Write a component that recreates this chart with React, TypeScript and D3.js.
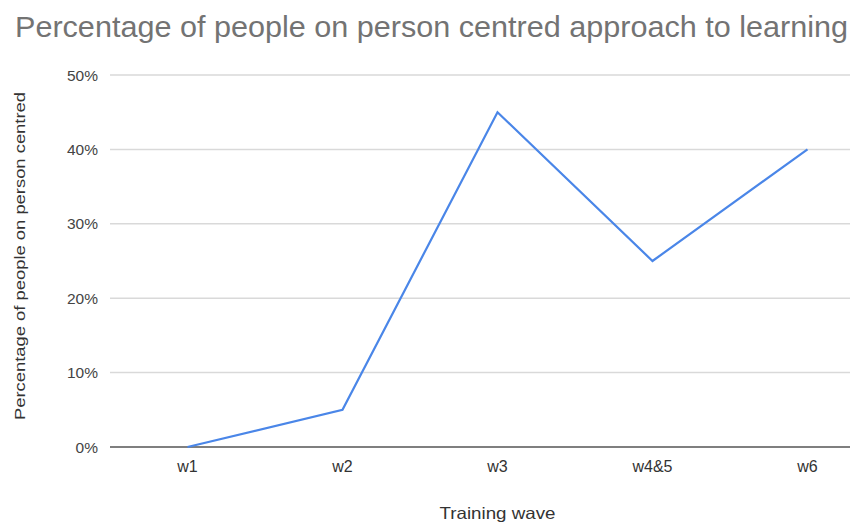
import React from "react";
import * as d3 from "d3";

const waves = ["w1", "w2", "w3", "w4&5", "w6"];
const shares = [0, 0.05, 0.45, 0.25, 0.4];
const yTicks = [0, 0.1, 0.2, 0.3, 0.4, 0.5];

const title = "Percentage of people on person centred approach to learning";
const xTitle = "Training wave";
const yTitle = "Percentage of people on person centred";

const W = 850;
const H = 526;
const plot = { left: 110, right: 885, top: 75, bottom: 447 };

export default function App() {
  const x = d3
    .scalePoint<string>()
    .domain(waves)
    .range([plot.left, plot.right])
    .padding(0.5);
  const y = d3.scaleLinear().domain([0, 0.5]).range([plot.bottom, plot.top]);
  const fmt = d3.format(".0%");

  const line = d3
    .line<number>()
    .x((_, i) => x(waves[i]) as number)
    .y((d) => y(d));

  const font = "'Liberation Sans', Arial, sans-serif";

  return (
    <svg
      width={W}
      height={H}
      style={{ position: "absolute", left: 0, top: 0, background: "#fff" }}
      fontFamily={font}
    >
      <text
        x={15}
        y={37}
        fontSize={30}
        fill="#737373"
        textLength={833}
        lengthAdjust="spacingAndGlyphs"
      >
        {title}
      </text>

      {yTicks.map((t) => (
        <g key={t}>
          {t > 0 && (
            <line
              x1={plot.left}
              x2={W}
              y1={y(t)}
              y2={y(t)}
              stroke="#d9d9d9"
              strokeWidth={1.5}
            />
          )}
          <text
            x={98}
            y={y(t)}
            dy="0.36em"
            textAnchor="end"
            fontSize={15.5}
            fill="#444"
          >
            {fmt(t)}
          </text>
        </g>
      ))}

      <line
        x1={plot.left}
        x2={W}
        y1={plot.bottom}
        y2={plot.bottom}
        stroke="#555"
        strokeWidth={1.5}
      />

      {waves.map((w) => (
        <text
          key={w}
          x={x(w)}
          y={472}
          textAnchor="middle"
          fontSize={16}
          fill="#333"
        >
          {w}
        </text>
      ))}

      <path
        d={line(shares) || ""}
        fill="none"
        stroke="#4a86e8"
        strokeWidth={2.2}
        strokeLinejoin="miter"
      />

      <text
        x={(plot.left + plot.right) / 2}
        y={519}
        textAnchor="middle"
        fontSize={16.5}
        fill="#333"
        textLength={116}
        lengthAdjust="spacingAndGlyphs"
      >
        {xTitle}
      </text>

      <text
        transform="translate(25, 256) rotate(-90)"
        textAnchor="middle"
        fontSize={15}
        fill="#333"
        textLength={328}
        lengthAdjust="spacingAndGlyphs"
      >
        {yTitle}
      </text>
    </svg>
  );
}
